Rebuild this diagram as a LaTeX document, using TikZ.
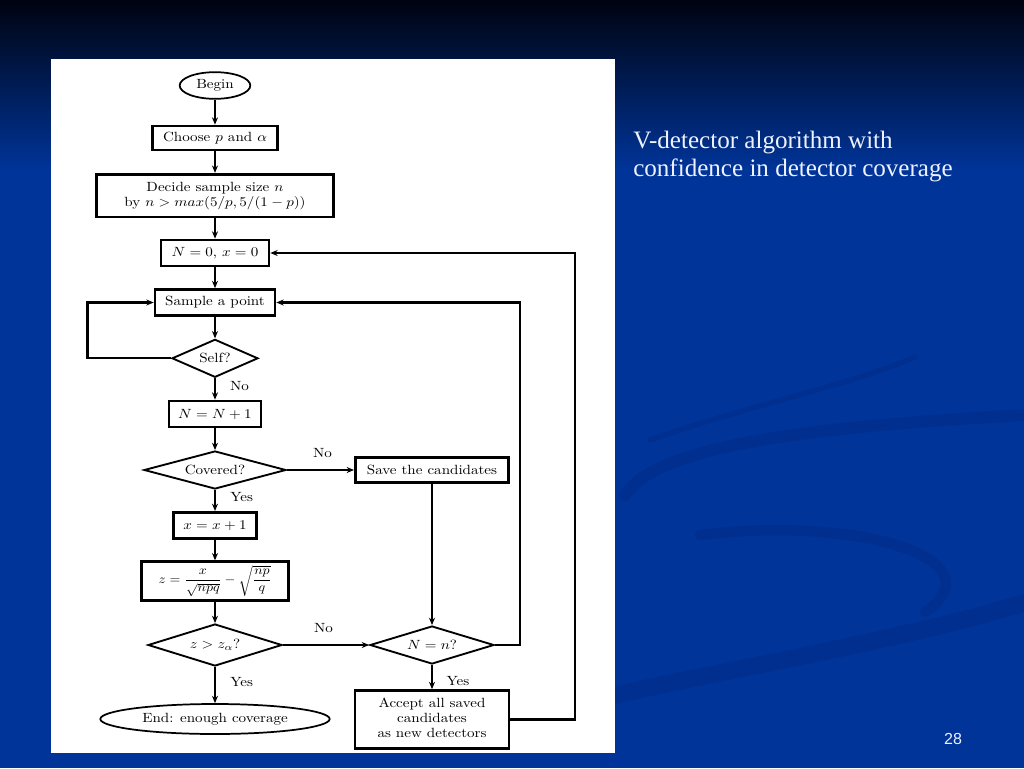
\documentclass[tikz,border=0pt]{standalone}
\usepackage{fontspec}
\usepackage{amsmath}
\usepackage{graphicx}
\usetikzlibrary{shapes.geometric,arrows.meta}

\newfontfamily\slidefont{Liberation Serif}
\newfontfamily\pagefont{Liberation Sans}
\definecolor{slideblue}{RGB}{0,52,153}
\definecolor{slidetop}{RGB}{0,3,16}
\definecolor{slidemid}{RGB}{0,18,56}
\definecolor{swooshblue}{RGB}{0,42,135}
\definecolor{paletext}{RGB}{238,242,255}
\newcommand{\wide}[1]{\scalebox{1.13}[1]{#1}}

\begin{document}
\begin{tikzpicture}[x=0.75pt,y=-0.75pt,
  every node/.style={font=\fontsize{10}{11.25}\selectfont},
  process/.style={draw,rectangle,line width=2pt,inner sep=0pt},
  terminal/.style={draw,ellipse,line width=1.3pt,inner sep=0pt},
  decision/.style={draw,diamond,line width=1.4pt,inner sep=0pt},
  flow/.style={-{Stealth[length=5.5pt,width=4.5pt]},line width=0.9pt},
  heavy/.style={line width=1.7pt},
  answer/.style={inner sep=0pt},
  swoosh/.style={draw=swooshblue,line cap=round,opacity=0.45}]
  \useasboundingbox (0,0) rectangle (1024,768);
  % slide background
  \fill[slideblue] (0,0) rectangle (1024,768);
  \shade[top color=slidetop,middle color=slidemid,bottom color=slideblue] (0,0) rectangle (1024,170);
  \draw[swoosh,line width=9pt] (625,495) .. controls (660,440) and (850,425) .. (1024,415);
  \draw[swoosh,line width=4pt] (650,440) .. controls (750,405) and (850,385) .. (915,357);
  \draw[swoosh,line width=8pt] (700,535) .. controls (860,515) and (1000,560) .. (925,612);
  \draw[swoosh,line width=13pt] (615,695) .. controls (750,665) and (900,640) .. (1024,603);
  \fill[white] (51,59) rectangle (615,753);

  % flowchart
  \node[terminal,minimum width=53pt,minimum height=20pt] (begin) at (215,85.5) {\wide{Begin}};
  \node[process,minimum width=94pt,minimum height=18pt] (choose) at (215,138) {\wide{Choose $p$ and $\alpha$}};
  \node[process,minimum width=178pt,minimum height=32pt] (decide) at (215,195.5)
    {\wide{\begin{tabular}{@{}c@{}}Decide sample size $n$\\ by $n > max(5/p,5/(1-p))$\end{tabular}}};
  \node[process,minimum width=81pt,minimum height=19.5pt] (init) at (215,253) {\wide{$N=0$, $x=0$}};
  \node[process,minimum width=90pt,minimum height=19.5pt] (sample) at (215,302.5) {\wide{Sample a point}};
  \node[decision,minimum width=64.5pt,minimum height=28.5pt,aspect=2.26] (self) at (215,358.3) {\wide{Self?}};
  \node[process,minimum width=69pt,minimum height=19.5pt] (incN) at (215,414) {\wide{$N=N+1$}};
  \node[decision,minimum width=106.5pt,minimum height=28.5pt,aspect=3.7] (covered) at (215,470) {\wide{Covered?}};
  \node[process,minimum width=115pt,minimum height=19pt] (save) at (432,470) {\wide{Save the candidates}};
  \node[process,minimum width=62pt,minimum height=19.5pt] (incx) at (215,525.3) {\wide{$x=x+1$}};
  \node[process,minimum width=110pt,minimum height=29pt] (zval) at (215,581)
    {\scalebox{1.05}[0.95]{$z=\dfrac{x}{\sqrt{npq}}-\sqrt{\dfrac{np}{q}}$}};
  \node[decision,minimum width=100.5pt,minimum height=31.5pt,aspect=3.19] (ztest) at (215,645) {\wide{$z>z_\alpha$?}};
  \node[decision,minimum width=93pt,minimum height=28.5pt,aspect=3.26] (nequal) at (432,645) {\wide{$N=n$?}};
  \node[terminal,minimum width=172pt,minimum height=22.5pt] (finish) at (215,719) {\wide{End: enough coverage}};
  \node[process,minimum width=115.5pt,minimum height=43.5pt] (accept) at (432,719.5)
    {\wide{\begin{tabular}{@{}c@{}}Accept all saved\\ candidates\\ as new detectors\end{tabular}}};

  \draw[flow] (begin) -- (choose);
  \draw[flow] (choose) -- (decide);
  \draw[flow] (decide) -- (init);
  \draw[flow] (init) -- (sample);
  \draw[flow] (sample) -- (self);
  \draw[flow,heavy] (self.west) -- ++(-83.5,0) |- (sample.west);
  \draw[flow,heavy] (self) -- node[answer,pos=0.37,right=10.5pt] {\wide{No}} (incN);
  \draw[flow,heavy] (incN) -- (covered);
  \draw[flow] (covered.east) -- node[answer,pos=0.53,above=9pt] {\wide{No}} (save.west);
  \draw[flow] (covered) -- node[answer,pos=0.34,right=11pt] {\wide{Yes}} (incx);
  \draw[flow,heavy] (incx) -- (zval);
  \draw[flow,heavy] (zval) -- (ztest);
  \draw[flow] (ztest) -- node[answer,pos=0.41,right=11pt] {\wide{Yes}} (finish);
  \draw[flow] (ztest.east) -- node[answer,pos=0.47,above=9pt] {\wide{No}} (nequal.west);
  \draw[flow] (save) -- (nequal);
  \draw[flow,heavy] (nequal.east) -- ++(25,0) |- (sample.east);
  \draw[flow] (nequal) -- node[answer,pos=0.68,right=10.5pt] {\wide{Yes}} (accept);
  \draw[flow,heavy] (accept.east) -- ++(65,0) |- (init.east);

  % slide text
  \node[anchor=base west,inner sep=0pt,text=paletext,font=\slidefont\fontsize{18.8}{22}\selectfont] (title) at (633,148.3) {V-detector algorithm with};
  \node[anchor=base west,inner sep=0pt,text=paletext,font=\slidefont\fontsize{18.8}{22}\selectfont] (subtitle) at (633,176.7) {confidence in detector coverage};
  \node[anchor=base,inner sep=0pt,text=paletext,font=\pagefont\fontsize{12}{14}\selectfont] (pagenum) at (953,744) {28};
\end{tikzpicture}
\end{document}
